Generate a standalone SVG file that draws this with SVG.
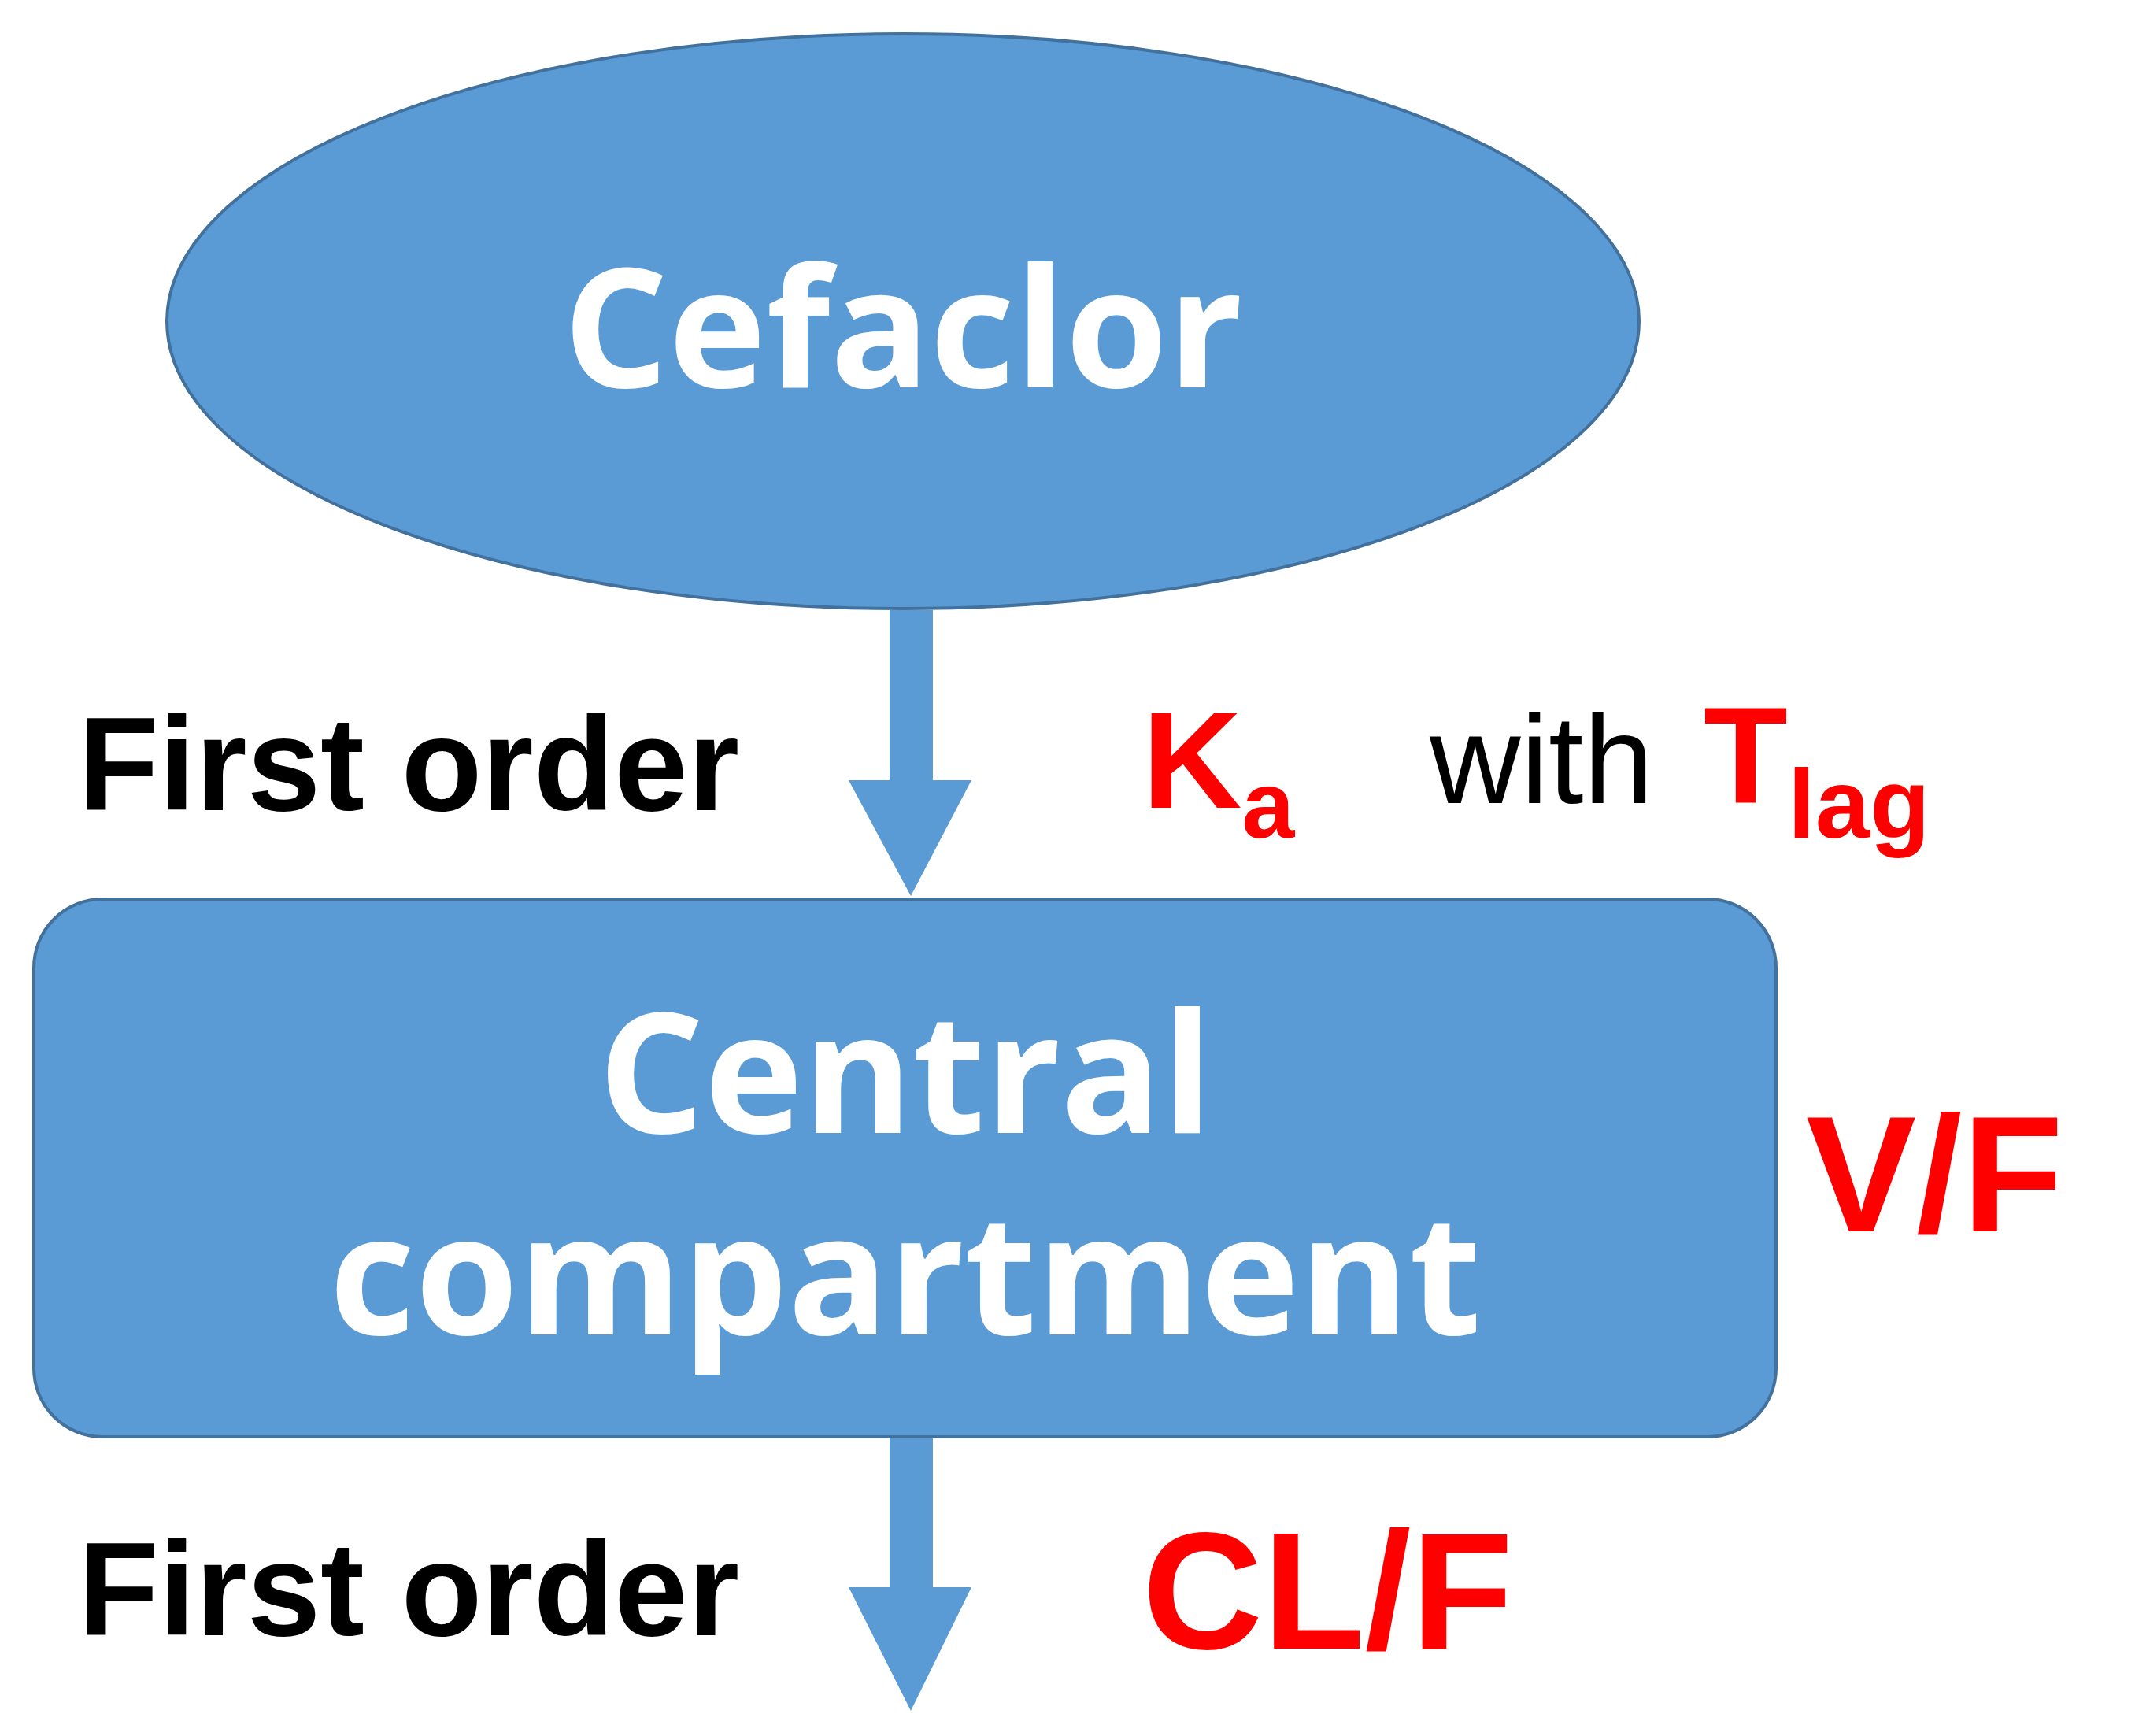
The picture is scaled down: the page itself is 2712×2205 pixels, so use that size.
<svg xmlns="http://www.w3.org/2000/svg" width="2712" height="2205" viewBox="0 0 2712 2205">
<style>
.shape{fill:#5B9BD5;stroke:#41719C;stroke-width:4}
.arr{fill:#5B9BD5}
.w{fill:#fff;font-family:"Open Sans","Noto Sans",sans-serif;font-weight:bold;text-anchor:middle}
.b{fill:#000;font-family:"Liberation Sans",Arial,sans-serif;font-weight:bold;font-size:168px}
.r{fill:#FF0000;font-family:"Liberation Sans",Arial,sans-serif;font-weight:bold}
</style>
<rect width="2712" height="2205" fill="#fff"/>
<g id="cefaclor">
<ellipse class="shape" cx="1147" cy="408" rx="935" ry="365"/>
<text class="w" x="1147" y="492" font-size="210">Cefaclor</text>
</g>
<g id="central">
<rect class="shape" x="43" y="1142" width="2213" height="683" rx="87"/>
<text class="w" x="1150" y="1439" font-size="212">Central</text>
<text class="w" x="1150" y="1695" font-size="212">compartment</text>
</g>
<g id="connectors">
<polygon class="arr" points="1130,775 1185,775 1185,991 1234,991 1157,1138 1078,991 1130,991"/>
<polygon class="arr" points="1130,1827 1185,1827 1185,2016 1234,2016 1157,2173 1078,2016 1130,2016"/>
</g>
<g id="labels">
<text class="b" x="99" y="1029">First order</text>
<text class="b" x="99" y="2077">First order</text>
<text class="r" x="1451" y="1026" font-size="175">K<tspan font-size="120" y="1064">a</tspan></text>
<text x="1816" y="1020" font-family="Liberation Sans,Arial,sans-serif" font-size="160" fill="#000">with</text>
<text class="r" x="2164" y="1020" font-size="175">T<tspan font-size="125" y="1064">lag</tspan></text>
<text class="r" x="2294" y="1564" font-size="210">V/F</text>
<text class="r" x="1451" y="2094" font-size="212">CL/F</text>
</g>
</svg>
